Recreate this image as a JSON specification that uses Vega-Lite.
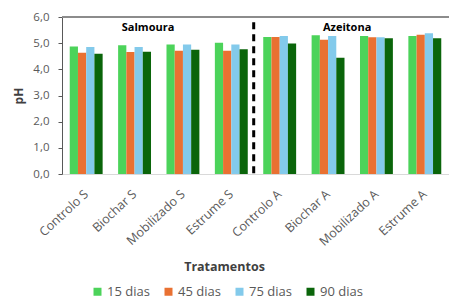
{
  "$schema": "https://vega.github.io/schema/vega-lite/v6.json",
  "width": 387,
  "height": 157,
  "autosize": {"type": "none"},
  "padding": {"left": 62, "top": 17, "right": 0, "bottom": 130},
  "background": "white",
  "config": {
    "view": {"stroke": null},
    "font": "Open Sans",
    "axis": {"labelColor": "#595959", "titleColor": "#404040"},
    "axisY": {
      "values": [0, 1, 2, 3, 4, 5, 6],
      "tickCount": 7,
      "labelOverlap": false,
      "grid": false,
      "domainColor": "#595959",
      "tickColor": "#595959",
      "tickSize": 4,
      "labelFontSize": 11.5,
      "labelPadding": 9,
      "titleFontSize": 12,
      "titleFontWeight": "bold",
      "titlePadding": 7
    }
  },
  "data": {
    "values": [
      {"t": "Controlo S", "d": "15 dias", "pH": 4.87},
      {"t": "Controlo S", "d": "45 dias", "pH": 4.63},
      {"t": "Controlo S", "d": "75 dias", "pH": 4.85},
      {"t": "Controlo S", "d": "90 dias", "pH": 4.60},
      {"t": "Biochar S", "d": "15 dias", "pH": 4.92},
      {"t": "Biochar S", "d": "45 dias", "pH": 4.66},
      {"t": "Biochar S", "d": "75 dias", "pH": 4.85},
      {"t": "Biochar S", "d": "90 dias", "pH": 4.67},
      {"t": "Mobilizado S", "d": "15 dias", "pH": 4.95},
      {"t": "Mobilizado S", "d": "45 dias", "pH": 4.71},
      {"t": "Mobilizado S", "d": "75 dias", "pH": 4.95},
      {"t": "Mobilizado S", "d": "90 dias", "pH": 4.75},
      {"t": "Estrume S", "d": "15 dias", "pH": 5.02},
      {"t": "Estrume S", "d": "45 dias", "pH": 4.71},
      {"t": "Estrume S", "d": "75 dias", "pH": 4.95},
      {"t": "Estrume S", "d": "90 dias", "pH": 4.77},
      {"t": "Controlo A", "d": "15 dias", "pH": 5.24},
      {"t": "Controlo A", "d": "45 dias", "pH": 5.24},
      {"t": "Controlo A", "d": "75 dias", "pH": 5.27},
      {"t": "Controlo A", "d": "90 dias", "pH": 4.99},
      {"t": "Biochar A", "d": "15 dias", "pH": 5.30},
      {"t": "Biochar A", "d": "45 dias", "pH": 5.13},
      {"t": "Biochar A", "d": "75 dias", "pH": 5.27},
      {"t": "Biochar A", "d": "90 dias", "pH": 4.44},
      {"t": "Mobilizado A", "d": "15 dias", "pH": 5.27},
      {"t": "Mobilizado A", "d": "45 dias", "pH": 5.23},
      {"t": "Mobilizado A", "d": "75 dias", "pH": 5.23},
      {"t": "Mobilizado A", "d": "90 dias", "pH": 5.19},
      {"t": "Estrume A", "d": "15 dias", "pH": 5.27},
      {"t": "Estrume A", "d": "45 dias", "pH": 5.32},
      {"t": "Estrume A", "d": "75 dias", "pH": 5.38},
      {"t": "Estrume A", "d": "90 dias", "pH": 5.19}
    ]
  },
  "layer": [
    {
      "mark": {"type": "bar"},
      "encoding": {
        "x": {
          "field": "t",
          "type": "nominal",
          "title": "Tratamentos",
          "scale": {
            "domain": ["Controlo S", "Biochar S", "Mobilizado S", "Estrume S", "Controlo A", "Biochar A", "Mobilizado A", "Estrume A"],
            "paddingInner": 0.32,
            "paddingOuter": 0.16
          },
          "axis": {
            "labelAngle": -43,
            "labelAlign": "right",
            "labelBaseline": "middle",
            "labelFontSize": 12.5,
            "labelPadding": 18,
            "labelOverlap": false,
            "ticks": false,
            "domainColor": "#d9d9d9",
            "domainWidth": 1,
            "titleFontSize": 12.5,
            "titleFontWeight": "bold",
            "titleX": 162,
            "titleY": 86
          }
        },
        "xOffset": {"field": "d", "type": "nominal", "scale": {"paddingInner": 0}},
        "y": {
          "field": "pH",
          "type": "quantitative",
          "title": "pH",
          "scale": {"domain": [0, 6], "nice": false},
          "axis": {
            "values": [0, 1, 2, 3, 4, 5, 6],
            "labelExpr": "replace(format(datum.value, '.1f'), '.', ',')"
          }
        },
        "color": {
          "field": "d",
          "type": "nominal",
          "scale": {
            "domain": ["15 dias", "45 dias", "75 dias", "90 dias"],
            "range": ["#4cd35a", "#e97132", "#83caeb", "#0a650a"]
          },
          "legend": {
            "title": null,
            "orient": "none",
            "direction": "horizontal",
            "columns": 4,
            "legendX": 29,
            "legendY": 268,
            "symbolType": "square",
            "symbolSize": 64,
            "symbolStrokeWidth": 0,
            "labelFontSize": 13,
            "labelColor": "#595959",
            "labelOffset": 3,
            "columnPadding": 12
          }
        }
      }
    },
    {
      "mark": {"type": "rule", "color": "#8c8c8c", "strokeWidth": 1.2},
      "encoding": {
        "y": {
          "datum": 6,
          "axis": {
            "values": [0, 1, 2, 3, 4, 5, 6],
            "labelExpr": "replace(format(datum.value, '.1f'), '.', ',')"
          }
        }
      }
    },
    {
      "data": {"values": [{"t": "Controlo A"}]},
      "mark": {"type": "rule", "color": "black", "strokeWidth": 3, "strokeDash": [7, 5]},
      "encoding": {
        "x": {"field": "t", "type": "nominal", "bandPosition": -0.29},
        "y": {
          "datum": 5.8,
          "axis": {
            "values": [0, 1, 2, 3, 4, 5, 6],
            "labelExpr": "replace(format(datum.value, '.1f'), '.', ',')"
          }
        },
        "y2": {"datum": 0}
      }
    },
    {
      "data": {"values": [{"t": "Biochar S", "label": "Salmoura"}]},
      "mark": {"type": "text", "fontWeight": "bold", "fontSize": 11, "color": "black"},
      "encoding": {
        "x": {"field": "t", "type": "nominal", "bandPosition": 0.91},
        "y": {
          "datum": 5.58,
          "axis": {
            "values": [0, 1, 2, 3, 4, 5, 6],
            "labelExpr": "replace(format(datum.value, '.1f'), '.', ',')"
          }
        },
        "text": {"field": "label"}
      }
    },
    {
      "data": {"values": [{"t": "Biochar A", "label": "Azeitona"}]},
      "mark": {"type": "text", "fontWeight": "bold", "fontSize": 11, "color": "black"},
      "encoding": {
        "x": {"field": "t", "type": "nominal", "bandPosition": 1.08},
        "y": {
          "datum": 5.58,
          "axis": {
            "values": [0, 1, 2, 3, 4, 5, 6],
            "labelExpr": "replace(format(datum.value, '.1f'), '.', ',')"
          }
        },
        "text": {"field": "label"}
      }
    }
  ]
}
